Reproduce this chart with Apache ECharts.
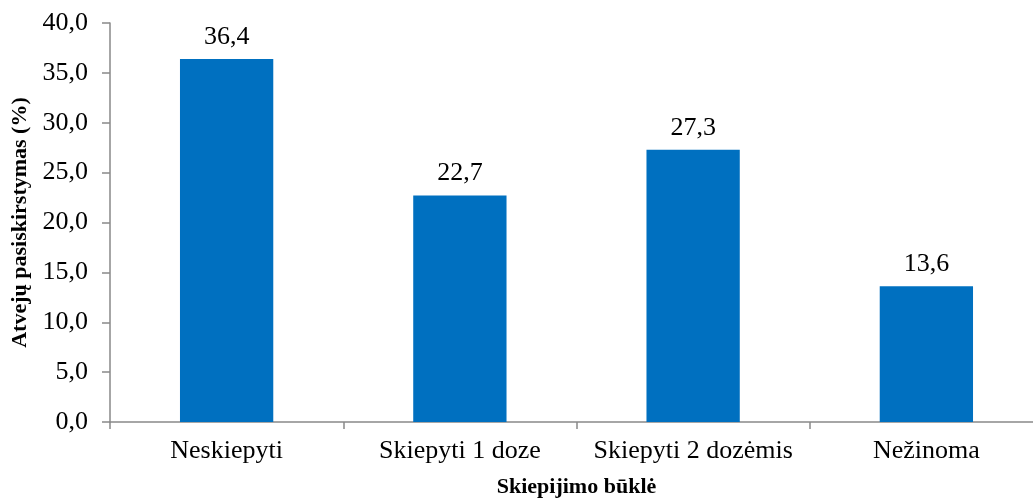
<!DOCTYPE html>
<html>
<head>
<meta charset="utf-8">
<script src="https://cdn.jsdelivr.net/npm/echarts@6/dist/echarts.min.js"></script>
<style>html,body{margin:0;padding:0;background:#fff}#c{width:1033px;height:500px}</style>
</head>
<body>
<div id="c"></div>
<script>
const categories = ['Neskiepyti', 'Skiepyti 1 doze', 'Skiepyti 2 dozėmis', 'Nežinoma'];
const values = [36.4, 22.7, 27.3, 13.6];
const yTicks = [0, 5, 10, 15, 20, 25, 30, 35, 40];
const xTitle = 'Skiepijimo būklė';
const yTitle = 'Atvejų pasiskirstymas (%)';

const fmt = v => Number(v).toFixed(1).replace('.', ',');
const font = '"Liberation Serif", "Times New Roman", serif';
const axisColor = '#898989';

const chart = echarts.init(document.getElementById('c'), null, {renderer: 'canvas'});
chart.setOption({
  animation: false,
  backgroundColor: '#fff',
  textStyle: {fontFamily: font, color: '#000'},
  grid: {left: 110, right: -10, top: 23, bottom: 78, containLabel: false, outerBoundsMode: 'none'},
  xAxis: {
    type: 'category',
    data: categories,
    boundaryGap: true,
    name: xTitle,
    nameLocation: 'middle',
    nameGap: 54,
    nameTextStyle: {fontFamily: font, fontSize: 22, fontWeight: 'bold', color: '#000'},
    axisLine: {lineStyle: {color: axisColor, width: 1.5}},
    axisTick: {show: true, interval: 0, length: 7, lineStyle: {color: axisColor, width: 1.5}},
    axisLabel: {interval: 0, fontFamily: font, fontSize: 26, color: '#000', margin: 16}
  },
  yAxis: {
    type: 'value',
    min: yTicks[0],
    max: yTicks[yTicks.length - 1],
    interval: yTicks[1] - yTicks[0],
    name: yTitle,
    nameLocation: 'middle',
    nameGap: 79,
    nameRotate: 90,
    nameTextStyle: {fontFamily: font, fontSize: 22, fontWeight: 'bold', color: '#000'},
    splitLine: {show: false},
    axisLine: {show: true, lineStyle: {color: axisColor, width: 1.5}},
    axisTick: {show: true, length: 8, lineStyle: {color: axisColor, width: 1.5}},
    axisLabel: {fontFamily: font, fontSize: 26, color: '#000', margin: 22, formatter: fmt}
  },
  series: [{
    type: 'bar',
    data: values,
    barWidth: '40%',
    itemStyle: {color: '#0070C0'},
    label: {
      show: true,
      position: 'top',
      distance: 9,
      fontFamily: font,
      fontSize: 26,
      color: '#000',
      formatter: p => fmt(p.value)
    }
  }]
});
</script>
</body>
</html>
